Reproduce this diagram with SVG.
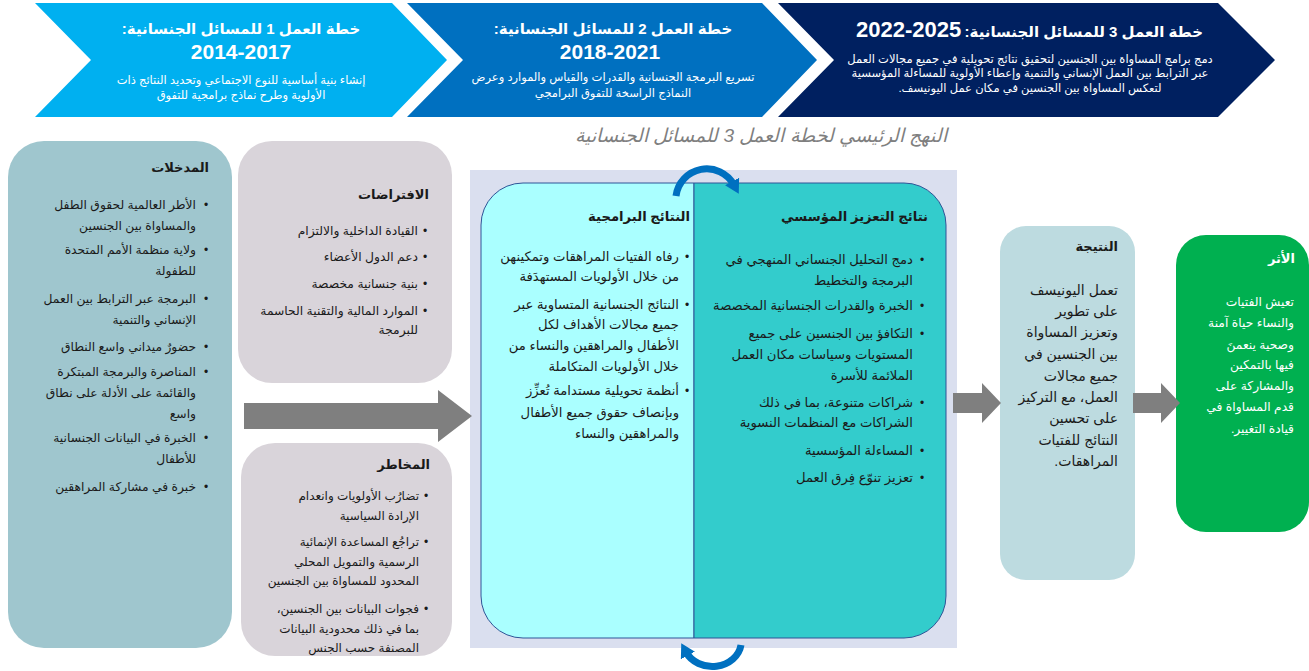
<svg xmlns="http://www.w3.org/2000/svg" width="1309" height="671" viewBox="0 0 1309 671">
<style>
.t{font-family:"Liberation Sans","DejaVu Sans",sans-serif;direction:rtl;text-anchor:start;fill:#1a1a1a;font-size:12.3px}
.c{text-anchor:middle}
.b{font-weight:bold}
.w{fill:#ffffff}
.h1{font-size:15px}
.h2{font-size:21px}
.sub{font-size:11.5px}
.h14{font-size:13px}
.h15{font-size:13.2px}
.p14{font-size:13.2px}
.p13{font-size:14px}
.p12{font-size:12.3px}
.r12{font-size:12px}
.bul{font-family:"Liberation Sans",sans-serif;text-anchor:middle;fill:#1a1a1a;font-size:12px}
.arrow{fill:#7f7f7f}
.cyc{fill:none;stroke:#0070c0;stroke-width:7}
</style>
<defs>
<marker id="ah" markerUnits="userSpaceOnUse" markerWidth="20" markerHeight="20" refX="4" refY="8" orient="auto">
<path d="M0,0 L14,8 L0,16 Z" fill="#0070c0"/>
</marker>
</defs>

<g id="banner1">
<polygon points="35,3 392,3 447,60 392,117 35,117 91,60" fill="#00b0f0"/>
<text class="t w b c h1" x="241" y="34">خطة العمل 1 للمسائل الجنسانية:</text>
<text class="t w b c h2" x="241" y="59">2014-2017</text>
<text class="t w c sub" x="241" y="84">إنشاء بنية أساسية للنوع الاجتماعي وتحديد النتائج ذات</text>
<text class="t w c sub" x="241" y="99">الأولوية وطرح نماذج برامجية للتفوق</text>
</g>
<g id="banner2">
<polygon points="407,3 762,3 817,60 762,117 407,117 463,60" fill="#0070c0"/>
<text class="t w b c h1" x="613" y="34">خطة العمل 2 للمسائل الجنسانية:</text>
<text class="t w b c h2" x="610" y="59">2018-2021</text>
<text class="t w c sub" x="613" y="81">تسريع البرمجة الجنسانية والقدرات والقياس والموارد وعرض</text>
<text class="t w c sub" x="613" y="97">النماذج الراسخة للتفوق البرامجي</text>
</g>
<g id="banner3">
<polygon points="778,3 1218,3 1275,60 1218,117 778,117 834,60" fill="#002060"/>
<text class="t w b h1" x="1203" y="37">خطة العمل 3 للمسائل الجنسانية:</text>
<text class="w b" x="856" y="37" style="font-family:'Liberation Sans',sans-serif;font-size:22px;direction:ltr;text-anchor:start">2022-2025</text>
<text class="t w c sub" x="1030" y="63">دمج برامج المساواة بين الجنسين لتحقيق نتائج تحويلية في جميع مجالات العمل</text>
<text class="t w c sub" x="1030" y="77">عبر الترابط بين العمل الإنساني والتنمية وإعطاء الأولوية للمساءلة المؤسسية</text>
<text class="t w c sub" x="1030" y="92">لتعكس المساواة بين الجنسين في مكان عمل اليونيسف.</text>
</g>

<g id="inputs">
<rect x="8" y="141" width="224" height="507" rx="36" fill="#9fc6ce"/>
<text class="t b h14" x="209" y="172">المدخلات</text>
<text class="bul" x="206" y="209">•</text>
<text class="t" x="196" y="209">الأطر العالمية لحقوق الطفل</text>
<text class="t" x="196" y="230">والمساواة بين الجنسين</text>
<text class="bul" x="206" y="254">•</text>
<text class="t" x="196" y="254">ولاية منظمة الأمم المتحدة</text>
<text class="t" x="196" y="275">للطفولة</text>
<text class="bul" x="206" y="303">•</text>
<text class="t" x="196" y="303">البرمجة عبر الترابط بين العمل</text>
<text class="t" x="196" y="324">الإنساني والتنمية</text>
<text class="bul" x="206" y="351">•</text>
<text class="t" x="196" y="351">حضورٌ ميداني واسع النطاق</text>
<text class="bul" x="206" y="376">•</text>
<text class="t" x="196" y="376">المناصرة والبرمجة المبتكرة</text>
<text class="t" x="196" y="397">والقائمة على الأدلة على نطاق</text>
<text class="t" x="196" y="418">واسع</text>
<text class="bul" x="206" y="442">•</text>
<text class="t" x="196" y="442">الخبرة في البيانات الجنسانية</text>
<text class="t" x="196" y="463">للأطفال</text>
<text class="bul" x="206" y="491">•</text>
<text class="t" x="196" y="491">خبرة في مشاركة المراهقين</text>
</g>

<g id="assumptions">
<rect x="238" y="141" width="214" height="242" rx="34" fill="#d9d4da"/>
<text class="t b h14" x="429" y="199">الافتراضات</text>
<text class="bul" x="425" y="235">•</text>
<text class="t" x="418" y="235">القيادة الداخلية والالتزام</text>
<text class="bul" x="425" y="261">•</text>
<text class="t" x="418" y="261">دعم الدول الأعضاء</text>
<text class="bul" x="425" y="288">•</text>
<text class="t" x="418" y="288">بنية جنسانية مخصصة</text>
<text class="bul" x="425" y="315">•</text>
<text class="t" x="418" y="315">الموارد المالية والتقنية الحاسمة</text>
<text class="t" x="418" y="334">للبرمجة</text>
</g>

<g id="risks">
<rect x="241" y="443" width="211" height="213" rx="34" fill="#d9d4da"/>
<text class="t b h14" x="430" y="469">المخاطر</text>
<text class="bul" x="426" y="500">•</text>
<text class="t r12" x="419" y="500">تضارُب الأولويات وانعدام</text>
<text class="t r12" x="419" y="520">الإرادة السياسية</text>
<text class="bul" x="426" y="546">•</text>
<text class="t r12" x="419" y="546">تراجُع المساعدة الإنمائية</text>
<text class="t r12" x="419" y="566">الرسمية والتمويل المحلي</text>
<text class="t r12" x="419" y="585">المحدود للمساواة بين الجنسين</text>
<text class="bul" x="426" y="613">•</text>
<text class="t r12" x="419" y="613">فجوات البيانات بين الجنسين،</text>
<text class="t r12" x="419" y="633">بما في ذلك محدودية البيانات</text>
<text class="t r12" x="419" y="652">المصنفة حسب الجنس</text>
</g>

<g id="approach">
<rect x="470" y="170" width="487" height="478" fill="#dadfef"/>
<text class="t c" x="761" y="142" style="font-size:19px;font-style:italic;fill:#7f7f7f">النهج الرئيسي لخطة العمل 3 للمسائل الجنسانية</text>
</g>

<g id="programme-results">
<path d="M694,183 H523 A42,42 0 0 0 481,225 V596 A42,42 0 0 0 523,638 H694 Z" fill="#aaffff" stroke="#2f5597" stroke-width="1"/>
<text class="t b h15" x="690" y="221">النتائج البرامجية</text>
<text class="bul" x="687" y="261">•</text>
<text class="t p14" x="679" y="261">رفاه الفتيات المراهقات وتمكينهن</text>
<text class="t p14" x="679" y="281">من خلال الأولويات المستهدَفة</text>
<text class="bul" x="687" y="309">•</text>
<text class="t p14" x="679" y="309">النتائج الجنسانية المتساوية عبر</text>
<text class="t p14" x="679" y="329">جميع مجالات الأهداف لكل</text>
<text class="t p14" x="679" y="350">الأطفال والمراهقين والنساء من</text>
<text class="t p14" x="679" y="371">خلال الأولويات المتكاملة</text>
<text class="bul" x="687" y="395">•</text>
<text class="t p14" x="679" y="395">أنظمة تحويلية مستدامة تُعزِّز</text>
<text class="t p14" x="679" y="417">وبإنصاف حقوق جميع الأطفال</text>
<text class="t p14" x="679" y="438">والمراهقين والنساء</text>
</g>

<g id="institutional-results">
<path d="M694,183 H904 A42,42 0 0 1 946,225 V596 A42,42 0 0 1 904,638 H694 Z" fill="#33cccc" stroke="#2f5597" stroke-width="1"/>
<text class="t b h15" x="928" y="221">نتائج التعزيز المؤسسي</text>
<text class="bul" x="922" y="264">•</text>
<text class="t p14" x="913" y="264">دمج التحليل الجنساني المنهجي في</text>
<text class="t p14" x="913" y="285">البرمجة والتخطيط</text>
<text class="bul" x="922" y="310">•</text>
<text class="t p14" x="913" y="310">الخبرة والقدرات الجنسانية المخصصة</text>
<text class="bul" x="922" y="338">•</text>
<text class="t p14" x="913" y="338">التكافؤ بين الجنسين على جميع</text>
<text class="t p14" x="913" y="359">المستويات وسياسات مكان العمل</text>
<text class="t p14" x="913" y="380">الملائمة للأسرة</text>
<text class="bul" x="922" y="407">•</text>
<text class="t p14" x="913" y="407">شراكات متنوعة، بما في ذلك</text>
<text class="t p14" x="913" y="427">الشراكات مع المنظمات النسوية</text>
<text class="bul" x="922" y="455">•</text>
<text class="t p14" x="913" y="455">المساءلة المؤسسية</text>
<text class="bul" x="922" y="482">•</text>
<text class="t p14" x="913" y="482">تعزيز تنوّع فِرق العمل</text>
</g>

<g id="result">
<rect x="1000" y="226" width="135" height="354" rx="26" fill="#bddbe0"/>
<text class="t b h14" x="1118" y="251">النتيجة</text>
<text class="t p13" x="1118" y="295">تعمل اليونيسف</text>
<text class="t p13" x="1118" y="316">على تطوير</text>
<text class="t p13" x="1118" y="337">وتعزيز المساواة</text>
<text class="t p13" x="1118" y="359">بين الجنسين في</text>
<text class="t p13" x="1118" y="381">جميع مجالات</text>
<text class="t p13" x="1118" y="402">العمل، مع التركيز</text>
<text class="t p13" x="1118" y="423">على تحسين</text>
<text class="t p13" x="1118" y="445">النتائج للفتيات</text>
<text class="t p13" x="1118" y="466">المراهقات.</text>
</g>

<g id="impact">
<rect x="1176" y="235" width="133" height="297" rx="30" fill="#00b050"/>
<text class="t b w h14" x="1295" y="263">الأثر</text>
<text class="t w p12" x="1294" y="306">تعيش الفتيات</text>
<text class="t w p12" x="1294" y="327">والنساء حياة آمنة</text>
<text class="t w p12" x="1294" y="349">وصحية ينعمنَ</text>
<text class="t w p12" x="1294" y="369">فيها بالتمكين</text>
<text class="t w p12" x="1294" y="390">والمشاركة على</text>
<text class="t w p12" x="1294" y="411">قدم المساواة في</text>
<text class="t w p12" x="1294" y="433">قيادة التغيير.</text>
</g>

<g id="connectors">
<polygon class="arrow" points="244,403 438,403 438,390 472,416 438,442 438,429 244,429"/>
<polygon class="arrow" points="953,393 982,393 982,383 1001,403 982,423 982,413 953,413"/>
<polygon class="arrow" points="1133,393 1161,393 1161,383 1180,403 1161,423 1161,413 1133,413"/>
<path class="cyc" d="M676,196 A31,31 0 0 1 734,185" marker-end="url(#ah)"/>
<path class="cyc" d="M741,645 A29,25 0 0 1 686,652" marker-end="url(#ah)"/>
</g>
</svg>
